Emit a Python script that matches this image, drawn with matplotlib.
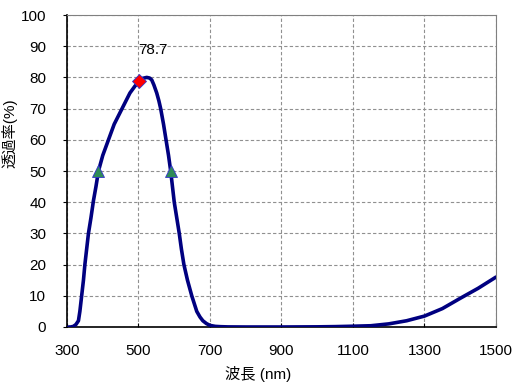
import matplotlib.pyplot as plt
import numpy as np

plt.rcParams['font.family'] = ['Liberation Sans', 'Noto Sans CJK JP', 'DejaVu Sans']
plt.rcParams['font.size'] = 11

# transmittance curve
wavelength = [305, 310, 318, 325, 332, 336, 341, 346, 350, 355, 360, 367, 374, 381, 388, 400, 416, 432, 454, 476,
              490, 502, 512, 523, 531, 537, 543, 551, 557, 562, 570, 577, 584, 590, 595, 600, 607, 614, 620, 627,
              637, 649, 663, 672, 680, 690, 700, 715, 730, 750, 800, 900, 1000, 1050, 1100, 1150, 1200, 1250,
              1300, 1350, 1400, 1450, 1500]
transmit = [0.0, 0.0, 0.2, 0.8, 2.0, 5.0, 10.0, 15.0, 20.0, 25.0, 30.0, 35.0, 40.5, 45.0, 50.0, 55.0, 60.0, 65.0, 70.0, 75.0,
            77.2, 78.7, 79.7, 80.0, 79.8, 79.2, 77.6, 75.0, 72.5, 70.0, 65.0, 60.0, 55.0, 50.0, 45.0, 40.0, 35.0, 30.0, 25.0, 20.0,
            15.0, 10.0, 5.0, 3.2, 2.0, 1.1, 0.5, 0.2, 0.1, 0.03, 0.0, 0.0, 0.05, 0.12, 0.25, 0.4, 1.0, 2.0,
            3.5, 5.9, 9.2, 12.4, 16.0]

peak_x, peak_y = [502], [78.7]
half_x, half_y = [388, 590], [50, 50]

fig = plt.figure(figsize=(5.21, 3.89), dpi=100)
ax = fig.add_axes([0.1286, 0.1594, 0.8234, 0.802])

ax.plot(wavelength, transmit, color='#000080', linewidth=2.6, zorder=3,
        solid_joinstyle='round', solid_capstyle='round')
ax.plot(peak_x, peak_y, marker='D', markersize=7, color='red', markeredgecolor='#3333cc', markeredgewidth=0.6, linestyle='none', zorder=4)
ax.plot(half_x, half_y, marker='^', markersize=8, color='#2e8b57', markeredgecolor='#3333cc', markeredgewidth=0.6, linestyle='none', zorder=4)
ax.text(540, 88.8, '78.7', ha='center', va='center', fontsize=11)

ax.set_xlim(300, 1500)
ax.set_ylim(0, 100)
ax.set_xticks(np.arange(300, 1501, 200))
ax.set_yticks(np.arange(0, 101, 10))
ax.tick_params(axis='y', direction='out', length=3, pad=12)
ax.tick_params(axis='x', direction='in', length=3, pad=12)
ax.grid(color='#909090', linestyle=(0, (3, 2)), linewidth=0.8)
ax.set_axisbelow(True)

for s in ['top', 'right']:
    ax.spines[s].set_color('#808080')
for s in ['left', 'bottom']:
    ax.spines[s].set_color('black')
    ax.spines[s].set_linewidth(1.2)

ax.set_xlabel('波長 (nm)')
ax.set_ylabel('透過率(%)')
ax.xaxis.set_label_coords(0.445, -0.125)
ax.yaxis.set_label_coords(-0.115, 0.62)

fig.savefig('out.png', dpi=100)
